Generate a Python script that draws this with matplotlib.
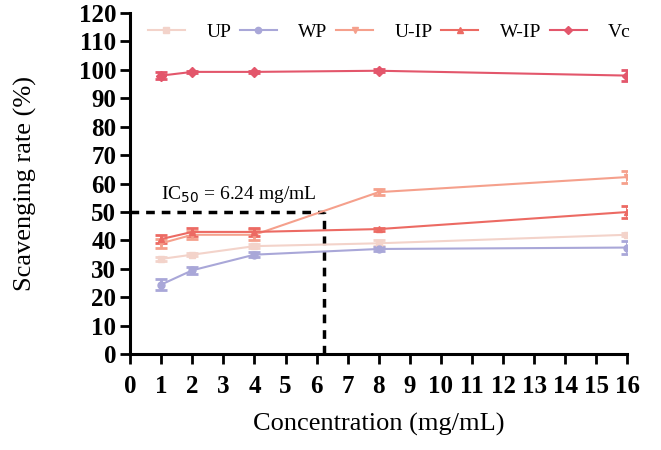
import numpy as np
import matplotlib.pyplot as plt
from matplotlib.lines import Line2D

plt.rcParams['font.family'] = ['Liberation Serif', 'DejaVu Serif']

conc = [1, 2, 4, 8, 16]
series = ['UP', 'WP', 'U-IP', 'W-IP', 'Vc']
up = [33.5, 35.0, 38.0, 39.0, 42.0]
up_err = [0.8, 0.6, 0.8, 1.0, 0.6]
wp = [24.5, 29.5, 35.0, 37.0, 37.5]
wp_err = [2.0, 1.3, 0.8, 0.6, 2.2]
uip = [39.0, 42.0, 42.0, 57.0, 62.3]
uip_err = [1.5, 1.5, 2.0, 1.0, 2.2]
wip = [40.5, 43.0, 43.0, 44.0, 50.0]
wip_err = [1.5, 1.5, 1.5, 0.5, 2.2]
vc = [98.0, 99.3, 99.3, 99.7, 98.0]
vc_err = [1.3, 0.3, 0.3, 0.6, 2.0]
ic50 = 6.24

values = [up, wp, uip, wip, vc]
errors = [up_err, wp_err, uip_err, wip_err, vc_err]
colors = ['#f3d3ca', '#a9a7d8', '#f5a08c', '#ec6a63', '#e3566b']
markers = ['s', 'o', 'v', '^', 'D']

fig = plt.figure(figsize=(6.61, 4.5), dpi=100)
ax = fig.add_axes([0.197, 0.213, 0.752, 0.758])

handles = []
for name, y, e, c, m in zip(series, values, errors, colors, markers):
    ax.errorbar(conc, y, yerr=e, color=c, marker=m, markersize=5,
                linewidth=1.5, elinewidth=2, capsize=4, capthick=2)
    handles.append(Line2D([], [], color=c, marker=m, markersize=4.5,
                          linewidth=1.5, label=name))

ax.plot([0, ic50], [50, 50], color='black', linestyle=(0, (2.5, 2)), linewidth=2.5)
ax.plot([ic50, ic50], [0, 50], color='black', linestyle=(0, (2.5, 2)), linewidth=2.5)
ax.text(1.0, 56, 'IC$_{50}$ = 6.24 mg/mL', fontsize=14, va='center')

ax.set_xlim(0, 16)
ax.set_ylim(0, 120)
ax.set_xticks(np.arange(0, 17, 1))
ax.set_yticks(np.arange(0, 121, 10))
for s in ['top', 'right']:
    ax.spines[s].set_visible(False)
for s in ['left', 'bottom']:
    ax.spines[s].set_linewidth(2.2)
ax.tick_params(direction='out', length=7, width=2, labelsize=18, pad=3)
ax.tick_params(axis='x', pad=8)
for lab in ax.get_xticklabels() + ax.get_yticklabels():
    lab.set_fontweight('bold')

ax.set_xlabel('Concentration (mg/mL)', fontsize=19, labelpad=11)
ax.set_ylabel('Scavenging rate (%)', fontsize=19, labelpad=30)

ax.legend(handles=handles, loc='center left', bbox_to_anchor=(0.02, 0.945), ncol=5,
          frameon=False, fontsize=14, handlelength=1.9, columnspacing=0.45,
          handletextpad=1.1, borderaxespad=0)

fig.savefig('out.png', dpi=100)
